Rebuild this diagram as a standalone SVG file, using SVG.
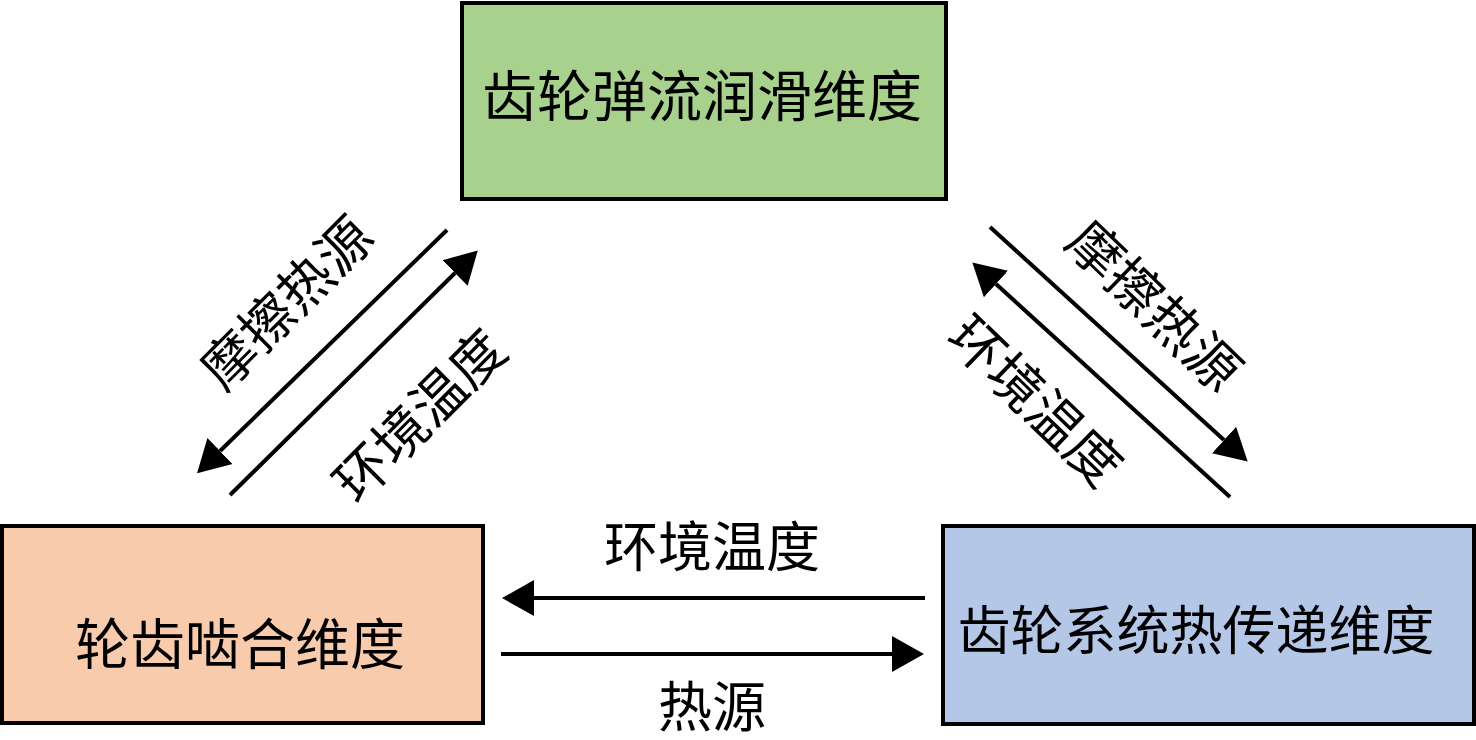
<svg xmlns="http://www.w3.org/2000/svg" width="1476" height="740" viewBox="0 0 1476 740">
<style>
.box{stroke:#000;stroke-width:4}
.t{font-family:"Noto Sans CJK SC","Noto Sans",sans-serif;fill:#000;text-anchor:middle;dominant-baseline:central}
.c{stroke:#000;stroke-width:4;fill:none;marker-end:url(#ah)}
</style>
<defs>
<marker id="ah" markerUnits="userSpaceOnUse" markerWidth="34" markerHeight="38" viewBox="0 -19 34 38" refX="0" refY="0" orient="auto">
<path d="M0,-18 L32,0 L0,18 z" fill="#000"/>
</marker>
</defs>
<rect width="1476" height="740" fill="#fff"/>
<g id="node-lubrication">
<rect class="box" x="462" y="3" width="484" height="196" fill="#A9D18E"/>
<text class="t" x="702" y="92" font-size="55">齿轮弹流润滑维度</text>
</g>
<g id="node-meshing">
<rect class="box" x="2" y="526" width="481" height="197" fill="#F8CBAD"/>
<text class="t" x="240" y="640" font-size="55">轮齿啮合维度</text>
</g>
<g id="node-heat">
<rect class="box" x="943" y="526" width="531" height="198" fill="#B4C7E7"/>
<text class="t" x="1196" y="627" font-size="53">齿轮系统热传递维度</text>
</g>
<g id="connectors">
<line class="c" x1="925" y1="598" x2="534" y2="598"/>
<line class="c" x1="501" y1="654" x2="892" y2="654"/>
<line class="c" x1="447" y1="230" x2="220" y2="451"/>
<line class="c" x1="230" y1="495" x2="455" y2="273"/>
<line class="c" x1="990" y1="227" x2="1224" y2="440"/>
<line class="c" x1="1230" y1="497" x2="996" y2="284"/>
<text class="t" x="712" y="543" font-size="54">环境温度</text>
<text class="t" x="712" y="703" font-size="54">热源</text>
<text class="t" font-size="54" transform="translate(284,300) rotate(-45)">摩擦热源</text>
<text class="t" font-size="54" transform="translate(417,413) rotate(-45)">环境温度</text>
<text class="t" font-size="54" transform="translate(1157,303) rotate(44)">摩擦热源</text>
<text class="t" font-size="54" transform="translate(1038,398) rotate(44)">环境温度</text>
</g>
</svg>
